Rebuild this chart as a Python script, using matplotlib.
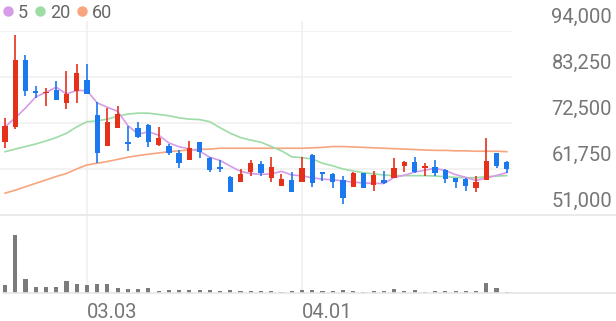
import matplotlib
matplotlib.use("Agg")
import matplotlib.pyplot as plt
import matplotlib.transforms as mtransforms
from matplotlib.lines import Line2D
import numpy as np
import pandas as pd

plt.rcParams['font.family'] = ['Roboto', 'DejaVu Sans']

# trading days (Korean market, 2021-03-01 holiday)
dates = pd.bdate_range('2021-02-18', '2021-04-29', freq='C', holidays=['2021-03-01'])

opens = [68000, 71600, 87200, 80000, 79400, 80200, 77100, 80000, 82500, 74400,
         67100, 71400, 68100, 71400, 72000, 67400, 67200, 65400, 63900, 68000,
         64400, 62300, 59900, 58800, 61000, 62900, 59600, 57800, 59200, 58600,
         65000, 61000, 60600, 59200, 57600, 60700, 58000, 59200, 59600, 62500,
         63300, 61900, 62300, 61500, 59600, 59400, 57400, 59200, 65400, 63400]
highs = [73600, 93100, 88400, 81200, 80600, 82300, 84700, 86200, 86200, 77500,
         76100, 76500, 71800, 72800, 72200, 71600, 67500, 66200, 68400, 68100,
         64600, 63900, 60100, 61800, 63900, 63600, 64600, 60500, 61100, 64600,
         65200, 61100, 60700, 60000, 61000, 60900, 61300, 61300, 64300, 63600,
         64600, 63100, 63900, 61800, 59700, 59600, 60000, 68900, 65600, 63600]
lows = [66700, 71100, 78900, 78400, 76500, 77900, 75700, 77100, 79300, 63200,
        67100, 71300, 66000, 69100, 67000, 67200, 65000, 62100, 63900, 64300,
        61000, 61000, 56300, 58700, 60200, 60200, 58600, 57800, 56300, 58600,
        57600, 58900, 57400, 53500, 57600, 57400, 56700, 58200, 59600, 61100,
        60700, 60100, 60200, 58400, 57400, 56700, 56400, 59200, 62100, 60700]
closes = [71900, 87200, 80000, 79400, 79800, 77900, 79300, 84100, 79300, 65400,
          72800, 74500, 67500, 69300, 68100, 68900, 65400, 63100, 66600, 65800,
          61500, 61800, 56400, 60500, 63100, 60700, 62300, 59400, 56300, 62100,
          58400, 60600, 58800, 54900, 60700, 57400, 60300, 58400, 62100, 63300,
          61000, 62500, 60700, 59400, 58600, 57800, 58800, 63600, 62500, 61800]
volumes = [770, 5770, 1400, 570, 570, 570, 1230, 930, 830, 900,
           930, 500, 400, 400, 500, 230, 330, 330, 330, 330,
           330, 230, 330, 230, 170, 230, 230, 130, 230, 300,
           300, 200, 230, 300, 200, 130, 230, 200, 370, 230,
           300, 130, 170, 230, 230, 200, 230, 1000, 530, 130]

ma5 = [71600, 73700, 76000, 78600, 79660, 80860, 79280, 80100, 80080, 77200,
       76180, 75220, 71900, 69900, 70440, 69660, 67840, 66960, 66420, 65960,
       64480, 63760, 62420, 61200, 60660, 60500, 60600, 61200, 60360, 60160,
       59700, 59360, 59240, 58960, 58680, 58480, 58420, 58340, 59780, 60300,
       61020, 61460, 61920, 61380, 60440, 59800, 59060, 59640, 60260, 60900]
ma20 = [65800, 66400, 67000, 67600, 68300, 69100, 70100, 71600, 72800, 73000,
        73400, 74100, 74600, 74800, 74800, 74500, 74200, 73700, 73400, 73300,
        72800, 71400, 70100, 69100, 68500, 68000, 67000, 66000, 64600, 64400,
        64100, 63100, 62500, 61750, 61300, 60900, 60600, 60350, 60200, 60200,
        60200, 60200, 60100, 59950, 59800, 59700, 59700, 59950, 60100, 60200]
ma60 = [56100, 56800, 57600, 58400, 59200, 60000, 60700, 61750, 62700, 63100,
        63500, 64000, 64500, 64900, 65200, 65500, 65800, 66000, 66200, 66350,
        66400, 66600, 66600, 66600, 66600, 66600, 66600, 66600, 66600, 66600,
        66700, 66800, 67000, 67000, 66900, 66800, 66700, 66600, 66500, 66400,
        66300, 66200, 66100, 66100, 66000, 66000, 65900, 65900, 65900, 65800]

price_ticks = [51000, 61750, 72500, 83250, 94000]
date_ticks = ['2021-03-03', '2021-04-01']

RED = '#e5301a'
BLUE = '#1c78ee'
C5, C20, C60 = '#d69ce8', '#9edca6', '#f8a57f'
GRID = '#f0f0f0'
TXT = '#767676'

W, H = 616, 321
fig = plt.figure(figsize=(W / 100, H / 100), dpi=100)
ax = fig.add_axes([0, (H - 215) / H, 512 / W, 184 / H])
axv = fig.add_axes([0, (H - 293) / H, 512 / W, 60 / H])

x = np.arange(len(dates))
o = np.array(opens); c = np.array(closes)
cols = [RED if cc >= oo else BLUE for oo, cc in zip(o, c)]

for a in (ax, axv):
    a.set_xlim(-0.49, 49.51)
    for s in a.spines.values():
        s.set_visible(False)
    a.set_yticks([])
    a.set_xticks([])
    a.patch.set_alpha(0)

ax.set_ylim(price_ticks[0], price_ticks[-1])
for t in price_ticks[1:]:
    ax.axhline(t, color=GRID, lw=1.2, zorder=0)

# moving averages
ax.plot(x, ma60, color=C60, lw=1.2, zorder=1)
ax.plot(x, ma20, color=C20, lw=1.2, zorder=1)
ax.plot(x, ma5, color=C5, lw=1.2, zorder=1)

# candles
ax.vlines(x, lows, highs, colors=cols, lw=1.2, zorder=2)
ax.bar(x, np.maximum(np.abs(c - o), 200), bottom=np.minimum(o, c), width=0.52,
       color=cols, zorder=3)

# price labels, sitting above their grid line
trans = mtransforms.offset_copy(ax.get_yaxis_transform(), fig=fig, y=14, units='dots')
for t in price_ticks:
    ax.text(612 / 512, t, f'{t:,}', transform=trans, ha='right', va='center',
            fontsize=14.5, color=TXT)

# volume
axv.set_ylim(0, 6000)
axv.bar(x, volumes, width=0.4, color='#7b7b7b')

# date ticks and vertical grid lines
pos = [dates.get_loc(pd.Timestamp(d)) for d in date_ticks]
vtrans = mtransforms.blended_transform_factory(ax.transData, fig.transFigure)
for p in pos:
    fig.add_artist(Line2D([p, p], [(H - 22) / H, (H - 293) / H], transform=vtrans,
                          color=GRID, lw=1.2, zorder=0))
axv.set_xticks(pos)
axv.set_xticklabels([pd.Timestamp(d).strftime('%m.%d') for d in date_ticks],
                    fontsize=14.5, color=TXT, ha='left')
axv.tick_params(axis='x', length=0, pad=7.5)

# full-width base lines
fig.add_artist(Line2D([0, 1], [(H - 215) / H] * 2, transform=fig.transFigure,
                      color='#e6e6e6', lw=1.2))
fig.add_artist(Line2D([3 / W, 1], [(H - 293) / H] * 2, transform=fig.transFigure,
                      color='#e6e6e6', lw=1.2))

# legend
handles = [Line2D([], [], marker='o', ls='', color=cc, markersize=6.5)
           for cc in (C5, C20, C60)]
fig.legend(handles, ['5', '20', '60'], loc='upper left', bbox_to_anchor=(0, 1),
           ncol=3, frameon=False, fontsize=13, handlelength=0.5,
           handletextpad=0.3, columnspacing=0.4, borderaxespad=0, borderpad=0.2,
           labelcolor='#666666')

fig.savefig('out.png', dpi=100)
